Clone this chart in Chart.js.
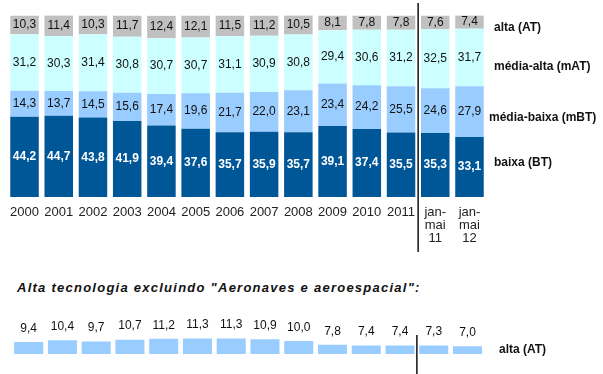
<!DOCTYPE html>
<html>
<head>
<meta charset="utf-8">
<title>Exportações por intensidade tecnológica</title>
<script src="https://cdn.jsdelivr.net/npm/chart.js"></script>
<style>
  html, body { margin: 0; padding: 0; background: #fff; }
  body { width: 603px; height: 374px; position: relative; overflow: hidden; }
  .caixa { position: absolute; left: 0; width: 603px; }
  #caixaTopo { top: 0; height: 255px; }
  #caixaBase { top: 300px; height: 74px; }
  .titulo {
    position: absolute; left: 17px; top: 280px;
    font: italic bold 13px "Liberation Sans", Arial, sans-serif;
    letter-spacing: 1.25px;
    color: #111; white-space: nowrap;
  }
</style>
</head>
<body>
<div class="caixa" id="caixaTopo"><canvas id="grafTopo"></canvas></div>
<div class="titulo">Alta tecnologia excluindo "Aeronaves e aeroespacial":</div>
<div class="caixa" id="caixaBase"><canvas id="grafBase"></canvas></div>

<script>
// anos e períodos parciais
const categorias = ['2000', '2001', '2002', '2003', '2004', '2005', '2006', '2007', '2008', '2009', '2010', '2011',
  ['jan-', 'mai', '11'], ['jan-', 'mai', '12']];

// participação (%) por intensidade tecnológica
const baixa      = [44.2, 44.7, 43.8, 41.9, 39.4, 37.6, 35.7, 35.9, 35.7, 39.1, 37.4, 35.5, 35.3, 33.1];
const mediaBaixa = [14.3, 13.7, 14.5, 15.6, 17.4, 19.6, 21.7, 22.0, 23.1, 23.4, 24.2, 25.5, 24.6, 27.9];
const mediaAlta  = [31.2, 30.3, 31.4, 30.8, 30.7, 30.7, 31.1, 30.9, 30.8, 29.4, 30.6, 31.2, 32.5, 31.7];
const alta       = [10.3, 11.4, 10.3, 11.7, 12.4, 12.1, 11.5, 11.2, 10.5, 8.1, 7.8, 7.8, 7.6, 7.4];

// alta tecnologia sem aeronaves e aeroespacial
const altaSemAero = [9.4, 10.4, 9.7, 10.7, 11.2, 11.3, 11.3, 10.9, 10.0, 7.8, 7.4, 7.4, 7.3, 7.0];

const nomes = ['baixa (BT)', 'média-baixa (mBT)', 'média-alta (mAT)', 'alta (AT)'];

const FONTE = '"Liberation Sans", Arial, sans-serif';
Chart.defaults.font.family = FONTE;
Chart.defaults.color = '#222';

function fmt(v) {
  return v.toFixed(1).replace('.', ',');
}

// escreve o valor de cada barra (no centro ou acima da barra)
const rotulosValores = {
  id: 'rotulosValores',
  afterDatasetsDraw(chart, args, opts) {
    const ctx = chart.ctx;
    ctx.save();
    ctx.textAlign = 'center';
    ctx.textBaseline = 'middle';
    chart.data.datasets.forEach((ds, i) => {
      const meta = chart.getDatasetMeta(i);
      ctx.fillStyle = ds.corRotulo || '#111';
      ctx.font = (ds.pesoRotulo || 'normal') + ' 12px ' + FONTE;
      meta.data.forEach((bar, j) => {
        const y = opts.acima ? bar.y - opts.acima : (bar.y + bar.base) / 2;
        ctx.fillText(fmt(ds.data[j]), bar.x, y);
      });
    });
    ctx.restore();
  }
};

// linha vertical que separa os anos completos dos períodos jan-mai
const separador = {
  id: 'separador',
  afterDraw(chart, args, opts) {
    const x = chart.scales.x;
    const px = (x.getPixelForValue(11) + x.getPixelForValue(12)) / 2;
    const ctx = chart.ctx;
    ctx.save();
    ctx.strokeStyle = '#111';
    ctx.lineWidth = 1.5;
    ctx.beginPath();
    ctx.moveTo(px, opts.y1);
    ctx.lineTo(px, opts.y2);
    ctx.stroke();
    ctx.restore();
  }
};

// nomes das séries à direita das barras
const nomesSeries = {
  id: 'nomesSeries',
  afterDraw(chart, args, opts) {
    const ctx = chart.ctx;
    ctx.save();
    ctx.fillStyle = '#111';
    ctx.font = 'bold 12px ' + FONTE;
    ctx.textAlign = 'left';
    ctx.textBaseline = 'middle';
    opts.itens.forEach(it => ctx.fillText(it.texto, it.x, it.y));
    ctx.restore();
  }
};

new Chart(document.getElementById('grafTopo'), {
  type: 'bar',
  data: {
    labels: categorias,
    datasets: [
      { label: nomes[0], data: baixa, backgroundColor: '#005798', corRotulo: '#fff', pesoRotulo: 'bold' },
      { label: nomes[1], data: mediaBaixa, backgroundColor: '#99ccff' },
      { label: nomes[2], data: mediaAlta, backgroundColor: '#ccffff' },
      { label: nomes[3], data: alta, backgroundColor: '#c0c0c0' }
    ]
  },
  options: {
    responsive: true,
    maintainAspectRatio: false,
    animation: false,
    barPercentage: 0.833,
    categoryPercentage: 1,
    layout: { padding: { left: 7.4, right: 116.4, top: 15.5, bottom: 0 } },
    plugins: {
      legend: { display: false },
      tooltip: { enabled: false },
      separador: { y1: 3, y2: 252 },
      nomesSeries: {
        itens: [
          { texto: nomes[3], x: 494, y: 28 },
          { texto: nomes[2], x: 494, y: 67 },
          { texto: nomes[1], x: 489, y: 118 },
          { texto: nomes[0], x: 494, y: 163 }
        ]
      }
    },
    scales: {
      x: {
        stacked: true,
        grid: { display: false, drawTicks: false },
        border: { display: false },
        ticks: { padding: 9, font: { size: 13, lineHeight: 1 }, color: '#222', maxRotation: 0, autoSkip: false },
        afterFit(scale) { scale.height = 58; }
      },
      y: { stacked: true, min: 0, max: 100, display: false }
    }
  },
  plugins: [rotulosValores, separador, nomesSeries]
});

new Chart(document.getElementById('grafBase'), {
  type: 'bar',
  data: {
    labels: categorias,
    datasets: [
      { label: nomes[3], data: altaSemAero, backgroundColor: '#99ccff', corRotulo: '#111' }
    ]
  },
  options: {
    responsive: true,
    maintainAspectRatio: false,
    animation: false,
    barPercentage: 0.86,
    categoryPercentage: 1,
    layout: { padding: { left: 11.8, right: 118.6, top: 33.9, bottom: 20 } },
    plugins: {
      legend: { display: false },
      tooltip: { enabled: false },
      rotulosValores: { acima: 13.5 },
      separador: { y1: 35, y2: 74 },
      nomesSeries: { itens: [{ texto: nomes[3], x: 499, y: 50 }] }
    },
    scales: {
      x: { display: false },
      y: { display: false, min: 2.5, max: 14 }
    }
  },
  plugins: [rotulosValores, separador, nomesSeries]
});
</script>
</body>
</html>
